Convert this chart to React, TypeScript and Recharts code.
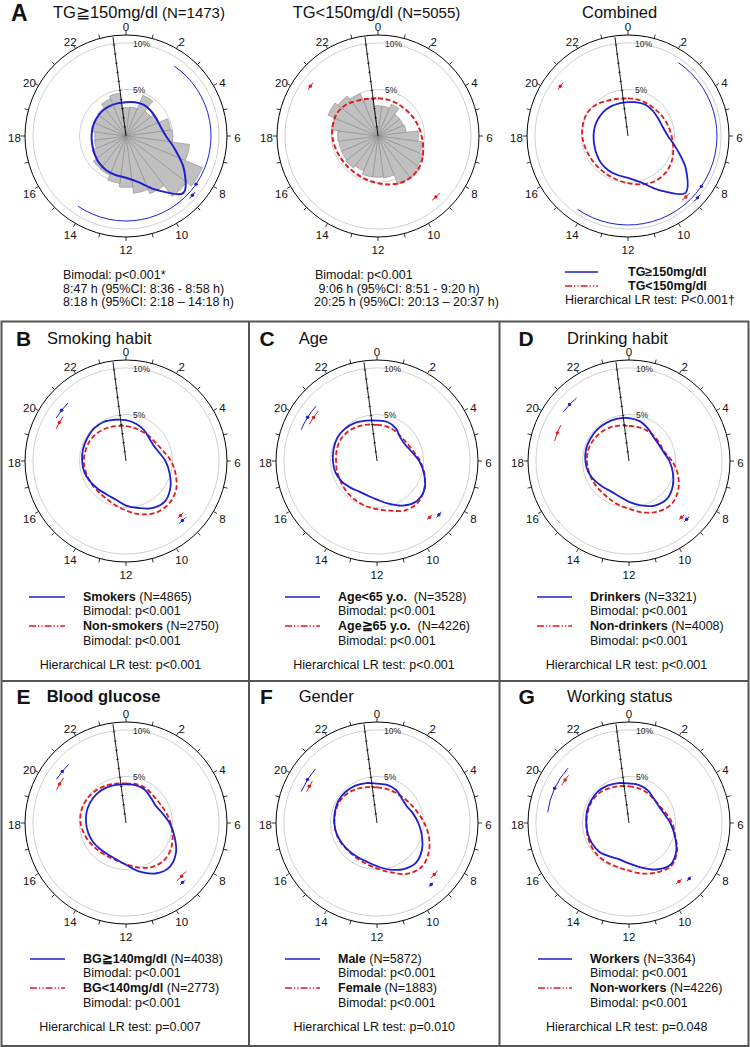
import React from 'react';
import { RadarChart, Radar, PolarGrid, PolarAngleAxis, PolarRadiusAxis } from 'recharts';

// ---------- data ----------
const hours = [0, 1, 2, 3, 4, 5, 6, 7, 8, 9, 10, 11, 12, 13, 14, 15, 16, 17, 18, 19, 20, 21, 22, 23];
const hourTickLabels = ['0', '2', '4', '6', '8', '10', '12', '14', '16', '18', '20', '22'];
const radiusTicks = [0, 1, 2, 3, 4, 5, 6, 7, 8, 9, 10];
const labeledRadiusTicks = [5, 10];
const gridRings = [5, 10];

// Panel A histograms (% per hourly bin) and densities (%)
const tgHighHist = [3.1, 3.2, 4.8, 3.4, 3.9, 4.9, 5.1, 7.0, 9.0, 8.3, 6.8, 6.3, 5.6, 5.2, 4.6, 4.5, 4.0, 3.5, 3.4, 3.8, 3.7, 3.9, 4.4, 4.7];
const tgHighDensity = [3.68, 3.8, 3.9, 3.85, 3.8, 3.9, 4.35, 5.5, 7.3, 8.8, 6.8, 5.2, 4.55, 4.4, 4.3, 4.15, 3.95, 3.8, 3.75, 3.75, 3.75, 3.75, 3.72, 3.68];
const tgLowHist = [3.3, 3.3, 3.75, 3.0, 3.0, 3.1, 4.4, 4.9, 5.4, 5.8, 5.7, 4.6, 4.5, 4.5, 4.1, 4.4, 4.3, 4.3, 4.4, 5.1, 5.9, 5.5, 5.0, 4.2];
const tgLowDensity = [4.1, 4.1, 4.1, 4.15, 4.3, 4.5, 4.75, 5.1, 5.5, 5.73, 5.72, 5.45, 5.14, 4.9, 4.75, 4.7, 4.72, 4.83, 4.98, 5.07, 5.1, 4.85, 4.45, 4.2];

const smokers = [4.45, 4.2, 3.9, 3.55, 3.45, 3.7, 4.3, 4.9, 5.6, 6.1, 5.9, 5.3, 4.85, 4.35, 4.2, 4.3, 4.5, 4.7, 4.78, 4.85, 4.9, 4.97, 4.9, 4.65];
const nonSmokers = [3.8, 3.7, 3.65, 3.7, 3.8, 4.2, 4.9, 5.6, 6.3, 6.6, 6.5, 6.0, 5.4, 4.9, 4.6, 4.5, 4.5, 4.55, 4.6, 4.55, 4.5, 4.35, 4.15, 3.95];
const ageUnder65 = [4.4, 4.4, 4.1, 3.6, 3.55, 3.9, 4.6, 5.3, 6.0, 6.15, 5.6, 4.8, 4.2, 3.9, 3.85, 4.1, 4.45, 4.7, 4.8, 4.9, 5.0, 4.95, 4.8, 4.55];
const age65Plus = [3.93, 3.9, 3.82, 3.72, 3.8, 4.1, 4.7, 5.35, 5.95, 6.35, 6.2, 5.6, 5.25, 5.05, 4.85, 4.7, 4.55, 4.5, 4.46, 4.55, 4.6, 4.5, 4.3, 4.1];
const drinkers = [4.68, 4.5, 4.1, 3.75, 3.7, 3.88, 4.4, 4.95, 5.5, 5.85, 5.6, 5.0, 4.45, 4.0, 3.85, 4.0, 4.3, 4.6, 4.75, 4.85, 4.86, 4.87, 4.83, 4.78];
const nonDrinkers = [3.82, 3.82, 3.85, 3.85, 3.85, 3.95, 4.7, 5.5, 6.2, 6.6, 6.35, 5.8, 5.2, 4.88, 4.6, 4.5, 4.5, 4.53, 4.58, 4.6, 4.5, 4.37, 4.2, 4.0];
const bgHigh = [4.2, 4.25, 4.15, 3.85, 3.75, 4.1, 4.75, 5.45, 6.3, 6.75, 6.35, 5.45, 4.55, 4.1, 3.95, 4.0, 4.15, 4.25, 4.35, 4.45, 4.5, 4.5, 4.42, 4.3];
const bgLow = [4.3, 4.38, 4.35, 4.2, 4.25, 4.5, 4.85, 5.25, 5.65, 5.8, 5.55, 5.0, 4.5, 4.2, 4.15, 4.25, 4.45, 4.7, 4.95, 5.05, 5.0, 4.85, 4.65, 4.45];
const male = [4.29, 4.3, 4.15, 3.8, 3.72, 4.05, 4.5, 5.05, 5.67, 6.06, 5.8, 5.25, 4.7, 4.35, 4.28, 4.3, 4.4, 4.55, 4.65, 4.75, 4.85, 4.82, 4.7, 4.5];
const female = [3.87, 3.85, 3.87, 3.95, 4.2, 4.55, 5.15, 5.85, 6.5, 6.82, 6.4, 5.55, 4.95, 4.6, 4.4, 4.36, 4.45, 4.58, 4.65, 4.68, 4.7, 4.55, 4.3, 4.05];
const workers = [4.3, 4.28, 4.1, 3.8, 3.72, 3.95, 4.5, 5.15, 5.95, 6.4, 5.85, 5.0, 4.4, 4.1, 4.2, 4.5, 4.6, 4.64, 4.65, 4.75, 4.8, 4.82, 4.7, 4.5];
const nonWorkers = [4.0, 3.92, 3.85, 3.75, 3.8, 4.15, 4.7, 5.2, 6.05, 6.55, 6.2, 5.7, 5.2, 4.95, 4.9, 4.9, 4.82, 4.7, 4.64, 4.65, 4.68, 4.6, 4.35, 4.15];

// peak times (hours) with 95% CI
type Peak = { peak: number; lo: number; hi: number };
const tgHighPeaks: Peak[] = [{ peak: 8.78, lo: 8.6, hi: 8.97 }, { peak: 8.3, lo: 2.3, hi: 14.3 }];
const tgLowPeaks: Peak[] = [{ peak: 9.1, lo: 8.85, hi: 9.33 }, { peak: 20.42, lo: 20.22, hi: 20.62 }];
const smokersPeaks: Peak[] = [{ peak: 9.1, lo: 8.9, hi: 9.3 }, { peak: 20.55, lo: 20.1, hi: 21.0 }];
const nonSmokersPeaks: Peak[] = [{ peak: 9.0, lo: 8.8, hi: 9.2 }, { peak: 20.0, lo: 19.65, hi: 20.35 }];
const ageUnder65Peaks: Peak[] = [{ peak: 8.73, lo: 8.55, hi: 8.9 }, { peak: 20.15, lo: 19.5, hi: 20.8 }];
const age65PlusPeaks: Peak[] = [{ peak: 9.13, lo: 8.95, hi: 9.3 }, { peak: 20.3, lo: 19.9, hi: 20.7 }];
const drinkersPeaks: Peak[] = [{ peak: 9.02, lo: 8.85, hi: 9.2 }, { peak: 20.9, lo: 20.45, hi: 21.35 }];
const nonDrinkersPeaks: Peak[] = [{ peak: 9.13, lo: 8.95, hi: 9.3 }, { peak: 19.43, lo: 19.0, hi: 19.85 }];
const bgHighPeaks: Peak[] = [{ peak: 9.09, lo: 8.95, hi: 9.25 }, { peak: 20.6, lo: 20.15, hi: 21.05 }];
const bgLowPeaks: Peak[] = [{ peak: 8.92, lo: 8.6, hi: 9.25 }, { peak: 20.03, lo: 19.7, hi: 20.4 }];
const malePeaks: Peak[] = [{ peak: 9.24, lo: 9.1, hi: 9.4 }, { peak: 20.13, lo: 19.5, hi: 20.75 }];
const femalePeaks: Peak[] = [{ peak: 8.8, lo: 8.55, hi: 9.05 }, { peak: 19.9, lo: 19.6, hi: 20.2 }];
const workersPeaks: Peak[] = [{ peak: 8.85, lo: 8.7, hi: 9.0 }, { peak: 19.67, lo: 18.5, hi: 20.8 }];
const nonWorkersPeaks: Peak[] = [{ peak: 9.3, lo: 9.1, hi: 9.5 }, { peak: 20.26, lo: 19.95, hi: 20.55 }];

// ---------- styles ----------
const FONT = '"Liberation Sans", Arial, Helvetica, sans-serif';
const BLUE = '#1f1fd0';
const RED = '#e3191c';
const RED_DASH = '5 2.6';
const RED_LEGEND_DASH = '7 2 1.3 2 1.3 2';
const CW = 250;
const CH = 250;
const CX0 = 125;
const CY0 = 125;
const R_OUT = 101;
const R_MAX = 10.85;
const LABEL_R = 111.5;
const AXIS_ANGLE = 97.5;
const RAD = Math.PI / 180;

type Series = { values: number[]; color: string; dash?: string; width: number; peaks: Peak[]; markerR: number[] };

const polar = (cx: number, cy: number, r: number, deg: number) => ({
  x: cx + r * Math.cos(-deg * RAD),
  y: cy + r * Math.sin(-deg * RAD),
});
const hourDeg = (h: number) => 90 - h * 15;

const HourTick = (props: any) => {
  const v = String(props?.payload?.value);
  if (!hourTickLabels.includes(v)) return <g />;
  const a = props.payload.coordinate;
  const p = polar(CX0, CY0, LABEL_R, a);
  return (
    <text x={p.x} y={p.y + 2.3 + 4.1} textAnchor="middle" fontSize={11.5} fontFamily={FONT} fill="#111" stroke="none">
      {v}
    </text>
  );
};

const RadiusTick = (props: any) => {
  const { x, y, payload } = props;
  const v = payload?.value;
  if (!(v > 0 && v <= 10)) return <g />;
  const px = Math.cos(-(AXIS_ANGLE - 90) * RAD);
  const py = Math.sin(-(AXIS_ANGLE - 90) * RAD);
  const L = 1.3;
  const labeled = labeledRadiusTicks.includes(v);
  const coord = payload.coordinate ?? 0;
  return (
    <g>
      <line x1={x - px * L} y1={y - py * L} x2={x + px * L} y2={y + py * L} stroke="#000" strokeWidth={0.7} />
      {labeled && (
        <text
          x={x + Math.sin((AXIS_ANGLE - 90) * RAD) * coord + 7}
          y={y + 2.5}
          fontSize={8.5}
          fontFamily={FONT}
          fill="#222"
          stroke="none"
        >
          {v + '%'}
        </text>
      )}
    </g>
  );
};

const HistShape = (props: any) => {
  const pts = props.points || [];
  return (
    <g>
      {pts.map((p: any, i: number) => {
        const c = { x: p.cx ?? CX0, y: p.cy ?? CY0 };
        const r = p.radius ?? Math.hypot(p.x - c.x, p.y - c.y);
        const a = p.angle ?? Math.atan2(-(p.y - c.y), p.x - c.x) / RAD;
        if (!(r > 0)) return null;
        const pa = polar(c.x, c.y, r, a + 7.5);
        const pb = polar(c.x, c.y, r, a - 7.5);
        return (
          <path
            key={i}
            d={`M${c.x},${c.y}L${pa.x},${pa.y}A${r},${r} 0 0 1 ${pb.x},${pb.y}Z`}
            fill="#c0c0c0"
            stroke="#8a8a8a"
            strokeWidth={0.6}
          />
        );
      })}
    </g>
  );
};

const makeCurveShape = (s: Series) => (props: any) => {
  const pts = props.points || [];
  if (!pts.length) return <g />;
  const cx = pts[0].cx ?? CX0;
  const cy = pts[0].cy ?? CY0;
  const n = pts.length;
  let d = `M${pts[0].x},${pts[0].y}`;
  for (let i = 0; i < n; i++) {
    const p0 = pts[(i - 1 + n) % n];
    const p1 = pts[i];
    const p2 = pts[(i + 1) % n];
    const p3 = pts[(i + 2) % n];
    const c1x = p1.x + (p2.x - p0.x) / 6;
    const c1y = p1.y + (p2.y - p0.y) / 6;
    const c2x = p2.x - (p3.x - p1.x) / 6;
    const c2y = p2.y - (p3.y - p1.y) / 6;
    d += ` C${c1x},${c1y} ${c2x},${c2y} ${p2.x},${p2.y}`;
  }
  d += 'Z';
  return (
    <g>
      <path d={d} fill="none" stroke={s.color} strokeWidth={s.width} strokeDasharray={s.dash} strokeLinejoin="round" />
      {s.peaks.map((pk, k) => {
        const r = s.markerR[k];
        let hi = pk.hi;
        if (hi < pk.lo) hi += 24;
        const a = polar(cx, cy, r, hourDeg(pk.lo));
        const b = polar(cx, cy, r, hourDeg(hi));
        const large = hi - pk.lo > 12 ? 1 : 0;
        const m = polar(cx, cy, r, hourDeg(pk.peak));
        return (
          <g key={k}>
            <path d={`M${a.x},${a.y}A${r},${r} 0 ${large} 1 ${b.x},${b.y}`} fill="none" stroke={s.color} strokeWidth={1} />
            <circle cx={m.x} cy={m.y} r={1.7} fill={s.color} />
          </g>
        );
      })}
    </g>
  );
};

type PlotProps = { cx: number; cy: number; hist?: number[]; series: Series[] };

function PolarPlot({ cx, cy, hist, series }: PlotProps) {
  const data = hours.map((h, i) => {
    const row: any = { hour: h };
    if (hist) row.hist = hist[i];
    series.forEach((s, k) => {
      row['s' + k] = s.values[i];
    });
    return row;
  });
  return (
    <div style={{ position: 'absolute', left: cx - CX0, top: cy - CY0, width: CW, height: CH }}>
      <RadarChart
        width={CW}
        height={CH}
        data={data}
        cx={CX0}
        cy={CY0}
        outerRadius={R_OUT}
        startAngle={90}
        endAngle={-270}
        margin={{ top: 0, right: 0, bottom: 0, left: 0 }}
      >
        <PolarGrid
          gridType="circle"
          radialLines={false}
          polarRadius={gridRings.map((v) => (v / R_MAX) * R_OUT)}
          stroke="#c4c4c4"
          strokeWidth={0.8}
        />
        <PolarAngleAxis
          dataKey="hour"
          type="category"
          axisLineType="circle"
          axisLine={{ stroke: '#000', strokeWidth: 1 }}
          tickLine={{ stroke: '#000', strokeWidth: 0.8 }}
          tickSize={4}
          tick={HourTick}
        />
        {hist && (
          <Radar dataKey="hist" isAnimationActive={false} shape={HistShape} dot={false} activeDot={false} />
        )}
        <PolarRadiusAxis
          angle={AXIS_ANGLE}
          type="number"
          domain={[0, R_MAX]}
          ticks={[...radiusTicks, R_MAX] as any}
          tickCount={12}
          axisLine={{ stroke: '#000', strokeWidth: 0.9 }}
          tick={RadiusTick}
          tickLine={false}
        />
        {series.map((s, k) => (
          <Radar
            key={k}
            dataKey={'s' + k}
            isAnimationActive={false}
            shape={makeCurveShape(s)}
            dot={false}
            activeDot={false}
          />
        ))}
      </RadarChart>
    </div>
  );
}

function Txt({ x, y, size = 12.5, weight = 400, children, anchor = 'start' }: any) {
  const h = Math.round(size * 1.3);
  const style: React.CSSProperties = {
    position: 'absolute',
    top: y - h / 2,
    height: h,
    lineHeight: h + 'px',
    fontSize: size,
    fontWeight: weight,
    whiteSpace: 'pre',
    color: '#111',
  };
  if (anchor === 'middle') {
    style.left = x - 200;
    style.width = 400;
    style.textAlign = 'center';
  } else {
    style.left = x;
  }
  return <div style={style}>{children}</div>;
}

function LegendLine({ x1, x2, y, color, dash }: any) {
  return (
    <svg style={{ position: 'absolute', left: x1, top: y - 3 }} width={x2 - x1} height={6}>
      <line x1={0} y1={3} x2={x2 - x1} y2={3} stroke={color} strokeWidth={1.6} strokeDasharray={dash} />
    </svg>
  );
}

type GroupSpec = {
  letter: string;
  title: string;
  titleBold?: boolean;
  titleSize?: number;
  letterX: number;
  titleX: number;
  cx: number;
  cy: number;
  lineX1: number;
  lineX2: number;
  textX: number;
  testX: number;
  a: [string, string];
  b: [string, string];
  test: string;
  blue: number[];
  red: number[];
  bluePeaks: Peak[];
  redPeaks: Peak[];
};

const BLUE_MR = [82, 82];
const RED_MR = [77, 77];

const groups: GroupSpec[] = [
  { letter: 'B', title: 'Smoking habit', letterX: 16, titleX: 47, cx: 126, cy: 461, lineX1: 29, lineX2: 65, textX: 83, testX: 120.5,
    a: ['Smokers', ' (N=4865)'], b: ['Non-smokers', ' (N=2750)'], test: 'Hierarchical LR test: p<0.001',
    blue: smokers, red: nonSmokers, bluePeaks: smokersPeaks, redPeaks: nonSmokersPeaks },
  { letter: 'C', title: 'Age', letterX: 259.5, titleX: 298.7, cx: 376.5, cy: 461, lineX1: 285, lineX2: 320, textX: 338, testX: 374,
    a: ['Age<65 y.o.', '  (N=3528)'], b: ['Age\u226765 y.o.', '  (N=4226)'], test: 'Hierarchical LR test: p<0.001',
    blue: ageUnder65, red: age65Plus, bluePeaks: ageUnder65Peaks, redPeaks: age65PlusPeaks },
  { letter: 'D', title: 'Drinking habit', letterX: 518.5, titleX: 567, cx: 628.5, cy: 461, lineX1: 537, lineX2: 572, textX: 590, testX: 626.5,
    a: ['Drinkers', ' (N=3321)'], b: ['Non-drinkers', ' (N=4008)'], test: 'Hierarchical LR test: p<0.001',
    blue: drinkers, red: nonDrinkers, bluePeaks: drinkersPeaks, redPeaks: nonDrinkersPeaks },
  { letter: 'E', title: 'Blood glucose', titleBold: true, letterX: 16.5, titleX: 46.7, cx: 126, cy: 823, lineX1: 30, lineX2: 65, textX: 83, testX: 120,
    a: ['BG\u2267140mg/dl', ' (N=4038)'], b: ['BG<140mg/dl', ' (N=2773)'], test: 'Hierarchical LR test: p=0.007',
    blue: bgHigh, red: bgLow, bluePeaks: bgHighPeaks, redPeaks: bgLowPeaks },
  { letter: 'F', title: 'Gender', letterX: 260, titleX: 298.7, cx: 376.5, cy: 823, lineX1: 285, lineX2: 320, textX: 338, testX: 374.3,
    a: ['Male', ' (N=5872)'], b: ['Female', ' (N=1883)'], test: 'Hierarchical LR test: p=0.010',
    blue: male, red: female, bluePeaks: malePeaks, redPeaks: femalePeaks },
  { letter: 'G', title: 'Working status', titleSize: 16, letterX: 518.5, titleX: 567, cx: 628.5, cy: 823, lineX1: 538, lineX2: 572, textX: 590, testX: 626.7,
    a: ['Workers', ' (N=3364)'], b: ['Non-workers', ' (N=4226)'], test: 'Hierarchical LR test: p=0.048',
    blue: workers, red: nonWorkers, bluePeaks: workersPeaks, redPeaks: nonWorkersPeaks },
];

function Group({ g }: { g: GroupSpec }) {
  const titleY = g.cy < 600 ? 338 : 696.5;
  const ly = [g.cy + 135.5, g.cy + 150.3, g.cy + 165.2, g.cy + 179.8, g.cy + 204];
  return (
    <>
      <PolarPlot
        cx={g.cx}
        cy={g.cy}
        series={[
          { values: g.red, color: RED, dash: RED_DASH, width: 1.8, peaks: g.redPeaks, markerR: RED_MR },
          { values: g.blue, color: BLUE, width: 1.8, peaks: g.bluePeaks, markerR: BLUE_MR },
        ]}
      />
      <Txt x={g.letterX} y={titleY} size={21} weight={700}>{g.letter}</Txt>
      <Txt x={g.titleX} y={titleY} size={g.titleSize ?? 16.5} weight={g.titleBold ? 700 : 400}>{g.title}</Txt>
      <LegendLine x1={g.lineX1} x2={g.lineX2} y={ly[0]} color={BLUE} />
      <Txt x={g.textX} y={ly[0]}>
        <b>{g.a[0]}</b>
        {g.a[1]}
      </Txt>
      <Txt x={g.textX} y={ly[1]}>Bimodal: p&lt;0.001</Txt>
      <LegendLine x1={g.lineX1} x2={g.lineX2} y={ly[2]} color={RED} dash={RED_LEGEND_DASH} />
      <Txt x={g.textX} y={ly[2]}>
        <b>{g.b[0]}</b>
        {g.b[1]}
      </Txt>
      <Txt x={g.textX} y={ly[3]}>Bimodal: p&lt;0.001</Txt>
      <Txt x={g.testX} y={ly[4]} anchor="middle">{g.test}</Txt>
    </>
  );
}

export default function App() {
  return (
    <div
      style={{
        position: 'absolute',
        left: 0,
        top: 0,
        width: 750,
        height: 1047,
        background: '#fff',
        fontFamily: FONT,
        color: '#111',
        overflow: 'hidden',
      }}
    >
      <svg style={{ position: 'absolute', left: 0, top: 0 }} width={750} height={1047}>
        <rect x={1.5} y={321.5} width={747} height={724.5} fill="none" stroke="#555" strokeWidth={2} />
        <line x1={1.5} y1={681} x2={748.5} y2={681} stroke="#555" strokeWidth={2} />
        <line x1={249} y1={321.5} x2={249} y2={1046} stroke="#555" strokeWidth={2} />
        <line x1={499.5} y1={321.5} x2={499.5} y2={1046} stroke="#555" strokeWidth={2} />
      </svg>

      {/* Panel A */}
      <PolarPlot
        cx={126}
        cy={136}
        hist={tgHighHist}
        series={[{ values: tgHighDensity, color: BLUE, width: 2, peaks: tgHighPeaks, markerR: [89, 85] }]}
      />
      <PolarPlot
        cx={378}
        cy={136}
        hist={tgLowHist}
        series={[{ values: tgLowDensity, color: RED, dash: RED_DASH, width: 2, peaks: tgLowPeaks, markerR: [84, 84] }]}
      />
      <PolarPlot
        cx={628.3}
        cy={136}
        series={[
          { values: tgLowDensity, color: RED, dash: RED_DASH, width: 1.8, peaks: tgLowPeaks, markerR: [84, 84] },
          { values: tgHighDensity, color: BLUE, width: 1.8, peaks: tgHighPeaks, markerR: [93, 89] },
        ]}
      />

      <Txt x={11} y={13} size={23} weight={700}>A</Txt>
      <Txt x={53} y={12.5} size={16.5}>
        TG{'\u2267'}150mg/dl<span style={{ fontSize: 15 }}> (N=1473)</span>
      </Txt>
      <Txt x={292.7} y={12.5} size={16.5}>
        TG&lt;150mg/dl<span style={{ fontSize: 15 }}> (N=5055)</span>
      </Txt>
      <Txt x={582} y={12.5} size={16.5}>Combined</Txt>

      <Txt x={63} y={275}>Bimodal: p&lt;0.001*</Txt>
      <Txt x={63} y={288.5}>8:47 h (95%CI: 8:36 - 8:58 h)</Txt>
      <Txt x={63} y={302}>8:18 h (95%CI: 2:18 {'\u2013'} 14:18 h)</Txt>

      <Txt x={315} y={275}>Bimodal: p&lt;0.001</Txt>
      <Txt x={318.5} y={288.5}>9:06 h (95%CI: 8:51 - 9:20 h)</Txt>
      <Txt x={314} y={302}>20:25 h (95%CI: 20:13 {'\u2013'} 20:37 h)</Txt>

      <LegendLine x1={565} x2={598} y={272} color={BLUE} />
      <Txt x={628} y={272} weight={700}>TG{'\u2265'}150mg/dl</Txt>
      <LegendLine x1={565} x2={598} y={286} color={RED} dash={RED_LEGEND_DASH} />
      <Txt x={628} y={286} weight={700}>TG&lt;150mg/dl</Txt>
      <Txt x={565} y={300}>Hierarchical LR test: P&lt;0.001{'\u2020'}</Txt>

      {groups.map((g) => (
        <Group key={g.letter} g={g} />
      ))}
    </div>
  );
}
